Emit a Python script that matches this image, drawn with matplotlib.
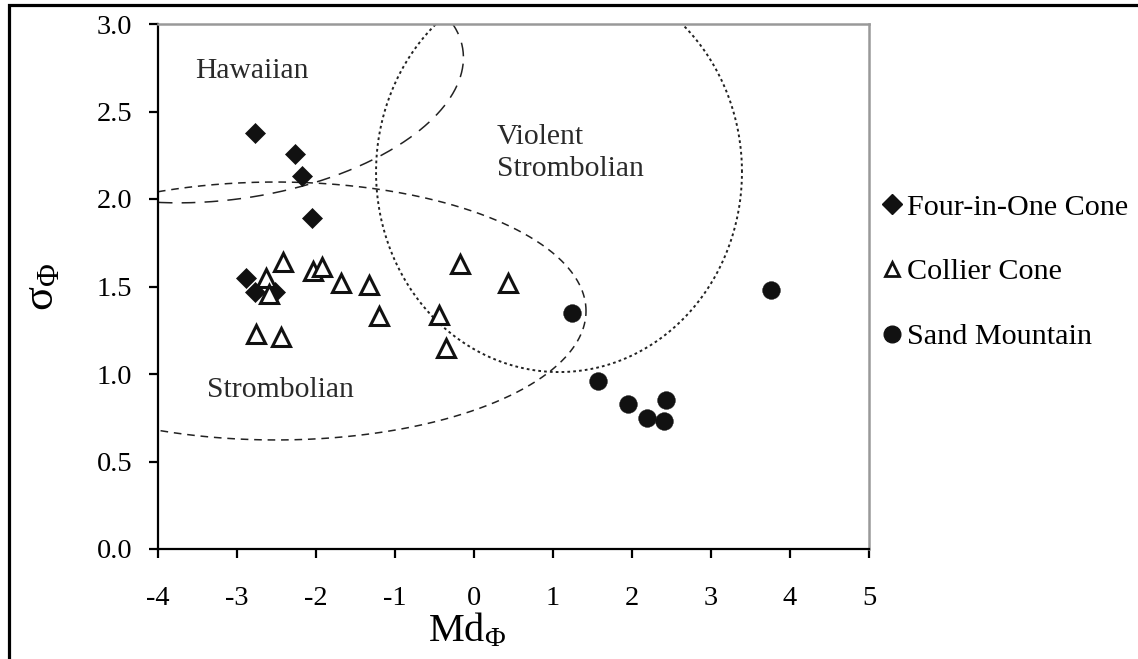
import numpy as np
import matplotlib
matplotlib.use("Agg")
import matplotlib.pyplot as plt
from matplotlib.patches import Rectangle
from matplotlib.lines import Line2D

plt.rcParams['font.family'] = ['Liberation Serif', 'DejaVu Serif']
plt.rcParams['mathtext.fontset'] = 'custom'
plt.rcParams['mathtext.rm'] = 'Liberation Serif'
plt.rcParams['mathtext.it'] = 'Liberation Serif:italic'

# ---- data ----
four_x = [-2.77, -2.27, -2.18, -2.05, -2.89, -2.77, -2.52]
four_y = [2.38, 2.26, 2.13, 1.89, 1.55, 1.47, 1.47]

collier_x = [-2.42, -2.63, -2.59, -2.04, -1.92, -1.68, -1.33, -1.20,
             -2.76, -2.44, -0.18, 0.43, -0.44, -0.35]
collier_y = [1.64, 1.55, 1.46, 1.59, 1.61, 1.52, 1.51, 1.33,
             1.23, 1.21, 1.63, 1.52, 1.34, 1.15]

sand_x = [1.24, 3.76, 1.57, 1.95, 2.43, 2.19, 2.41]
sand_y = [1.35, 1.48, 0.96, 0.83, 0.85, 0.75, 0.73]

series_labels = ["Four-in-One Cone", "Collier Cone", "Sand Mountain"]
x_ticks = [-4, -3, -2, -1, 0, 1, 2, 3, 4, 5]
y_ticks = [0.0, 0.5, 1.0, 1.5, 2.0, 2.5, 3.0]

# eruption-style fields: (center x, center y, semi-axis a, semi-axis b, rotation deg)
hawaiian_field = (-3.10, 2.66, 2.97, 0.665, 3.0)
strombolian_field = (-2.506, 1.36, 3.924, 0.737, 0.0)
violent_field = (1.076, 2.154, 2.316, 1.143, 0.0)

field_labels = ["Hawaiian", "Violent\nStrombolian", "Strombolian"]

# ---- figure ----
fig = plt.figure(figsize=(11.38, 6.59), dpi=100)
ax = fig.add_axes([158/1138, 1-549/659, (869-158)/1138, (549-24)/659])

def ellipse_pts(cx, cy, a, b, ang):
    t = np.linspace(0, 2*np.pi, 721)
    p = np.deg2rad(ang)
    x = cx + a*np.cos(p)*np.cos(t) - b*np.sin(p)*np.sin(t)
    y = cy + a*np.sin(p)*np.cos(t) + b*np.cos(p)*np.sin(t)
    return x, y

lc = '#222222'
hx, hy = ellipse_pts(*hawaiian_field)
ax.plot(hx, hy, color=lc, lw=1.1, linestyle=(0, (9, 6)))
sx, sy = ellipse_pts(*strombolian_field)
ax.plot(sx, sy, color=lc, lw=1.1, linestyle=(0, (5, 3.8)))
vx, vy = ellipse_pts(*violent_field)
ax.plot(vx, vy, color=lc, lw=1.4, linestyle=(0, (1.4, 1.6)))

mc = '#111111'
ax.plot(four_x, four_y, linestyle='none', marker='D', ms=10.5,
        mfc=mc, mec=mc, mew=0.5, zorder=5)
ax.plot(collier_x, collier_y, linestyle='none', marker='^', ms=12.5,
        mfc='white', mec=mc, mew=2.2, zorder=5)
ax.plot(sand_x, sand_y, linestyle='none', marker='o', ms=12.8,
        mfc=mc, mec=mc, mew=0.3, zorder=5)

tc = '#2a2a2a'
ax.text(-2.81, 2.73, field_labels[0], fontsize=21.3, color=tc, ha='center', va='center')
ax.text(0.29, 2.26, field_labels[1], fontsize=21.3, color=tc, ha='left', va='center',
        linespacing=1.3)
ax.text(-3.38, 0.91, field_labels[2], fontsize=21.3, color=tc, ha='left', va='center')

ax.set_xlim(-4, 5)
ax.set_ylim(0, 3)
ax.set_xticks(x_ticks)
ax.set_xticklabels([str(v) for v in x_ticks])
ax.set_yticks(y_ticks)
ax.set_yticklabels([f"{v:.1f}" for v in y_ticks])
ax.tick_params(axis='both', direction='out', length=6.5, width=1.6,
               labelsize=20.5, colors='black')
ax.tick_params(axis='x', pad=20)
ax.tick_params(axis='y', pad=12)
for s in ['left', 'bottom']:
    ax.spines[s].set_color('black')
    ax.spines[s].set_linewidth(1.6)
for s in ['top', 'right']:
    ax.spines[s].set_color('#999999')
    ax.spines[s].set_linewidth(1.8)

ax.set_xlabel(r"Md$_{\Phi}$", fontsize=29)
ax.xaxis.set_label_coords(0.435, -0.12)
ax.set_ylabel(r"$\mathrm{\sigma}_{\Phi}$", fontsize=32, rotation=90)
ax.yaxis.set_label_coords(-0.135, 0.5)

handles = [
    Line2D([], [], linestyle='none', marker='D', ms=10.5, mfc=mc, mec=mc),
    Line2D([], [], linestyle='none', marker='^', ms=10.5, mfc='white', mec=mc, mew=2.0),
    Line2D([], [], linestyle='none', marker='o', ms=12, mfc=mc, mec=mc),
]
leg = ax.legend(handles, series_labels, loc='center left',
                bbox_to_anchor=(1.02, 0.528), frameon=False, fontsize=21.7,
                handlelength=0.6, handletextpad=0.2, labelspacing=1.25,
                borderaxespad=0, borderpad=0)

# outer frame (cropped border)
fig.patches.append(Rectangle((9/1138, -0.2), 1.5, 1.2 - 5/659, transform=fig.transFigure,
                             fill=False, edgecolor='black', lw=2.3, clip_on=False))

fig.savefig("out.png", dpi=100)
